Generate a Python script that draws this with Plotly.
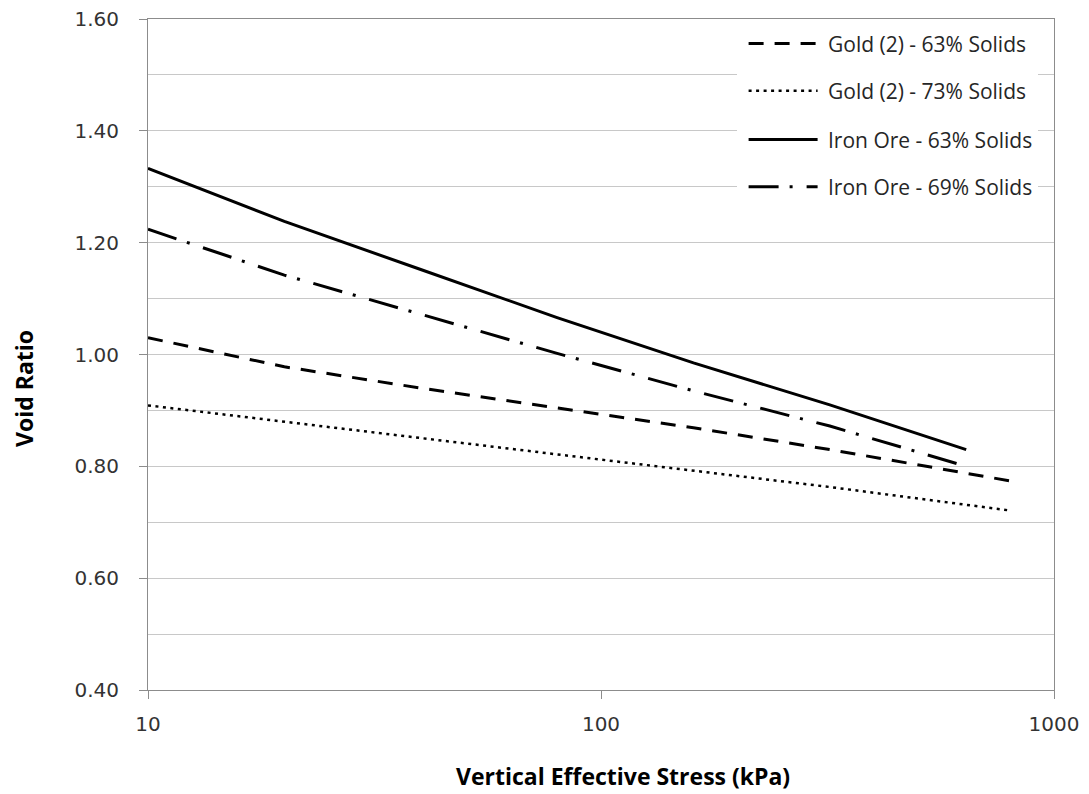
import plotly.graph_objects as go

# ---------------- data ----------------
iron_stress = [10, 20, 40, 80, 160, 320, 640]
iron63_void = [1.333, 1.238, 1.152, 1.066, 0.985, 0.910, 0.830]
iron69_void = [1.224, 1.142, 1.072, 1.002, 0.935, 0.872, 0.800]

gold_stress = [10, 20, 40, 80, 160, 320, 800]
gold63_void = [1.030, 0.978, 0.940, 0.905, 0.869, 0.830, 0.774]
gold73_void = [0.909, 0.880, 0.851, 0.822, 0.792, 0.763, 0.721]

series_names = ["Gold (2) - 63% Solids", "Gold (2) - 73% Solids",
                "Iron Ore - 63% Solids", "Iron Ore - 69% Solids"]

y_tickvals = [0.4, 0.6, 0.8, 1.0, 1.2, 1.4, 1.6]
y_ticktext = ["0.40", "0.60", "0.80", "1.00", "1.20", "1.40", "1.60"]
x_tickvals = [10, 100, 1000]
x_ticktext = ["10", "100", "1000"]

x_title = "Vertical Effective Stress (kPa)"
y_title = "Void Ratio"

# ---------------- styles ----------------
W, H = 1089, 794
L, R, T, B = 148, 35, 19, 104
PW, PH = W - L - R, H - T - B

styles = [
    dict(width=3, dash="15px,11px"),
    dict(width=2.5, dash="3px,4.5px"),
    dict(width=3, dash="solid"),
    dict(width=3, dash="30px,11px,3px,14px"),
]
xs = [gold_stress, gold_stress, iron_stress, iron_stress]
ys = [gold63_void, gold73_void, iron63_void, iron69_void]

fig = go.Figure()
for name, x, y, st in zip(series_names, xs, ys, styles):
    fig.add_trace(go.Scatter(x=x, y=y, mode="lines", name=name,
                             line=dict(color="black", width=st["width"], dash=st["dash"]),
                             showlegend=False))

def px2paper_x(px):
    return (px - L) / PW

def px2paper_y(py):
    return 1 - (py - T) / PH

AXIS_COL = "#8c8c8c"
GRID_COL = "#c8c8c8"
TICK_FONT = dict(family="DejaVu Sans", size=20, color="#333333")
TEXT_FAMILY = "Open Sans"

shapes = []
annotations = []

# custom legend (white box + line samples + labels)
shapes.append(dict(type="rect", xref="paper", yref="paper",
                   x0=px2paper_x(737), x1=px2paper_x(1038),
                   y0=px2paper_y(214), y1=px2paper_y(20),
                   fillcolor="white", line=dict(width=0), layer="above"))
row_y = [43.6, 90.7, 139.5, 186.7]
for name, st, ry in zip(series_names, styles, row_y):
    shapes.append(dict(type="line", xref="paper", yref="paper",
                       x0=px2paper_x(748.6), x1=px2paper_x(817.6),
                       y0=px2paper_y(ry), y1=px2paper_y(ry),
                       line=dict(color="black", width=st["width"], dash=st["dash"]),
                       layer="above"))
    annotations.append(dict(text=name, xref="paper", yref="paper",
                            x=px2paper_x(826), y=px2paper_y(ry),
                            xanchor="left", yanchor="middle", showarrow=False,
                            font=dict(family=TEXT_FAMILY, size=21, color="#262626")))

# axis titles
annotations.append(dict(text="<b>%s</b>" % x_title, xref="paper", yref="paper",
                        x=px2paper_x(623), y=px2paper_y(776),
                        xanchor="center", yanchor="middle", showarrow=False,
                        font=dict(family=TEXT_FAMILY, size=23, color="#000000")))
annotations.append(dict(text="<b>%s</b>" % y_title, xref="paper", yref="paper",
                        x=px2paper_x(24), y=px2paper_y(389), textangle=-90,
                        xanchor="center", yanchor="middle", showarrow=False,
                        font=dict(family=TEXT_FAMILY, size=23, color="#000000")))

fig.update_layout(
    width=W, height=H,
    margin=dict(l=L, r=R, t=T, b=B, pad=0, autoexpand=False),
    paper_bgcolor="white", plot_bgcolor="white",
    showlegend=False,
    shapes=shapes, annotations=annotations,
    xaxis=dict(type="log", range=[1, 3], tickvals=x_tickvals, ticktext=x_ticktext,
               showgrid=False, zeroline=False, automargin=False,
               showline=True, linecolor=AXIS_COL, linewidth=1, mirror=True,
               ticks="outside", ticklen=8, tickcolor=AXIS_COL, tickwidth=1,
               tickfont=TICK_FONT, ticklabelstandoff=8),
    yaxis=dict(range=[0.4, 1.6], tickvals=y_tickvals, ticktext=y_ticktext,
               showgrid=True, gridcolor=GRID_COL, gridwidth=1, zeroline=False,
               automargin=False,
               showline=True, linecolor=AXIS_COL, linewidth=1, mirror=True,
               ticks="outside", ticklen=8, tickcolor=AXIS_COL, tickwidth=1,
               tickfont=TICK_FONT, ticklabelstandoff=16,
               minor=dict(dtick=0.1, showgrid=True, gridcolor=GRID_COL, gridwidth=1, ticks="")),
)

fig.write_html("out.html")
